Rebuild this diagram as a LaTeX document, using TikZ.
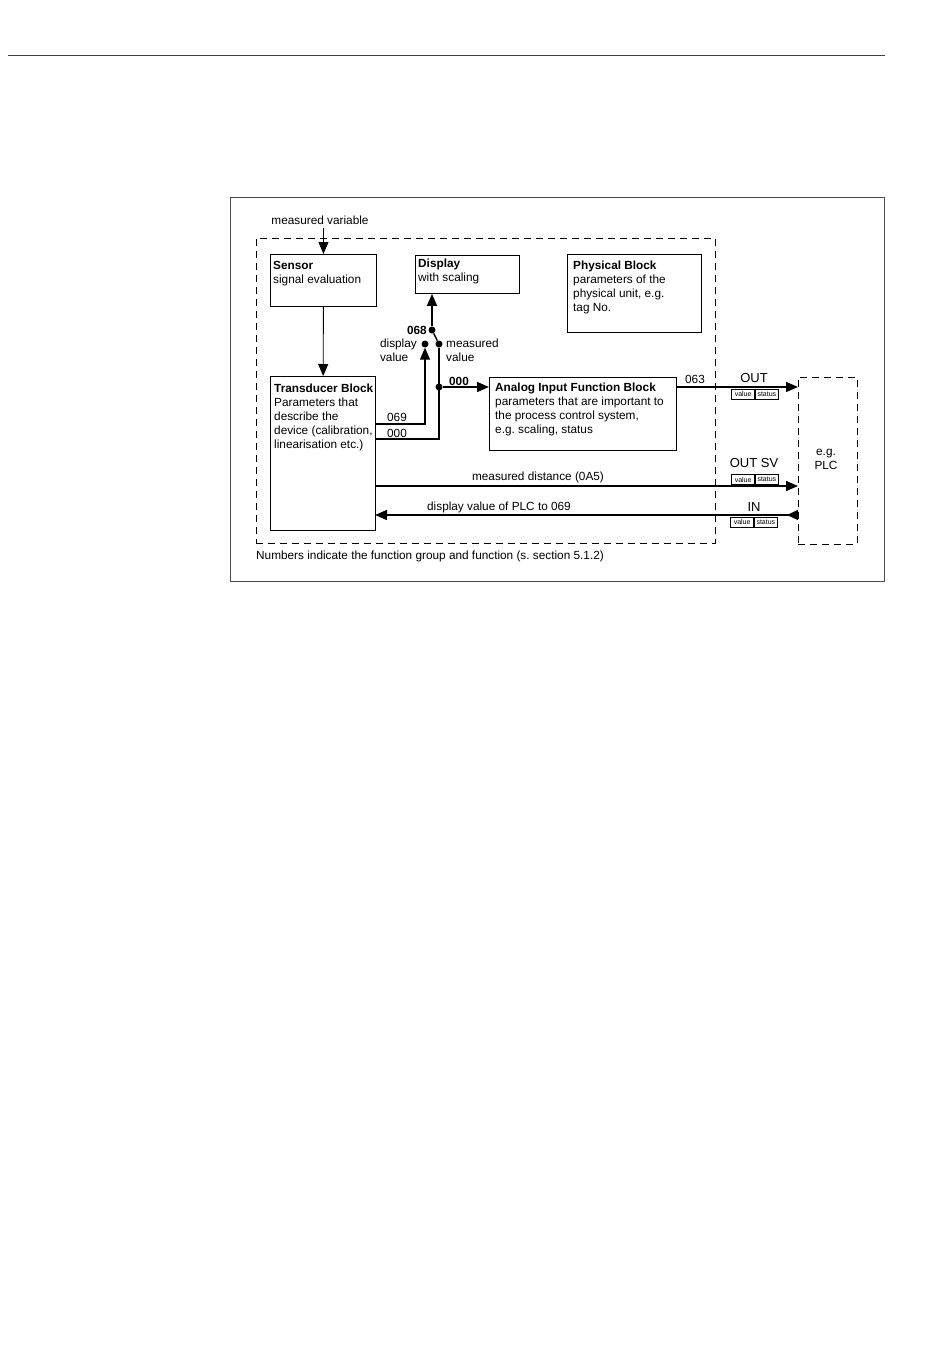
\documentclass[tikz,border=0pt]{standalone}
\usepackage{fontspec}
\setmainfont{Liberation Sans}
\usetikzlibrary{arrows.meta, positioning, calc}

\tikzset{
  block/.style={draw, line width=0.9pt, rectangle, anchor=north west, inner sep=0pt},
  blocktext/.style={anchor=north west, align=left, inner sep=0pt},
  dashedbox/.style={dash pattern=on 7pt off 5pt},
  flow/.style={line width=1.4pt, -{Triangle[length=12pt,width=10pt]}},
  thinflow/.style={line width=0.9pt, -{Triangle[length=12pt,width=10pt]}},
  backflow/.style={line width=1.4pt, {Triangle[reversed,length=11pt,width=10pt]}-{Triangle[length=12pt,width=10pt]}},
  wire/.style={line width=1.4pt},
  dot/.style={circle, fill, inner sep=0pt, minimum size=7pt},
  tag/.style={draw, line width=0.7pt, font=\fontsize{7}{8}\selectfont, minimum width=23pt, minimum height=10pt, inner sep=0pt},
  sig/.style={font=\fontsize{13}{15}\selectfont},
  lbl/.style={inner sep=0pt}
}

\begin{document}
\fontsize{11.8}{13.9}\selectfont
\begin{tikzpicture}[x=1pt, y=-1pt]
\useasboundingbox (0,0) rectangle (950,1370);

% Page rule and frames
\draw[line width=1pt, black!75] (8,56) -- (885,56);
\node[block, draw=black!70, minimum width=654pt, minimum height=384pt] (frame) at (230,197) {};
\node[block, dashedbox, minimum width=459pt, minimum height=305pt] (device) at (256,238) {};

% Blocks
\node[block, minimum width=106pt, minimum height=52pt] (sensor) at (270,254) {};
\node[blocktext] (sensortxt) at ([xshift=3pt,yshift=-7pt]sensor.north west) {\textbf{Sensor}\\signal evaluation};

\node[block, minimum width=105pt, minimum height=154pt] (transducer) at (270,376) {};
\node[blocktext] (transducertxt) at ([xshift=4pt,yshift=-8pt]transducer.north west) {\textbf{Transducer Block}\\Parameters that\\describe the\\device (calibration,\\linearisation etc.)};

\node[block, minimum width=104pt, minimum height=38pt] (display) at (415,255) {};
\node[blocktext] (displaytxt) at ([xshift=3pt,yshift=-4pt]display.north west) {\textbf{Display}\\with scaling};

\node[block, minimum width=134pt, minimum height=78pt] (physical) at (567,254) {};
\node[blocktext] (physicaltxt) at ([xshift=6pt,yshift=-7pt]physical.north west) {\textbf{Physical Block}\\parameters of the\\physical unit, e.g.\\tag No.};

\node[block, minimum width=187pt, minimum height=73pt] (analog) at (489,377) {};
\node[blocktext] (analogtxt) at ([xshift=6pt,yshift=-6pt]analog.north west) {\textbf{Analog Input Function Block}\\parameters that are important to\\the process control system,\\e.g.\ scaling, status};

\node[block, dashedbox, minimum width=59pt, minimum height=167pt] (plc) at (798,377) {};
\node[align=center, lbl] (plctxt) at (826,459) {e.g.\\PLC};

% Measured variable into the sensor
\node[lbl] (mvar) at (320,220) {measured variable};
\draw[thinflow] ([yshift=-3pt]mvar.south -| sensor.north) -- (sensor.north);
\draw[thinflow] (sensor) -- (transducer);

% Switch between display value and measured value
\node[dot] (d068) at (432,330) {};
\node[dot] (ddisp) at (425,344) {};
\node[dot] (dmeas) at (439,344) {};
\node[dot] (djoin) at (439,387) {};
\coordinate (in069) at (375,424);
\coordinate (in000) at (375,439);

\draw[flow] (d068) -- (d068 |- display.south);
\draw[wire] (d068) -- (dmeas);
\draw[wire] (in000) -| (dmeas);
\draw[flow] (in069) -| (ddisp.south);
\draw[flow] (djoin) -- (djoin -| analog.west);

\node[lbl, anchor=east, font=\bfseries] (l068) at (427,330) {068};
\node[lbl, anchor=east, align=left] (ldisp) at (417,350) {display\\value};
\node[lbl, anchor=west, align=left] (lmeas) at (446,350) {measured\\value};
\node[lbl, font=\bfseries] (l000a) at (459,381) {000};
\node[lbl] (l069) at (397,417) {069};
\node[lbl] (l000b) at (397,433) {000};

% Signals to and from the PLC
\draw[flow] (analog.east |- djoin) -- (plc.west |- djoin);
\node[lbl] (l063) at (695,379) {063};
\node[lbl, sig] (lout) at (754,378) {OUT};
\node[tag, anchor=north east] (outval) at (755,389) {value};
\node[tag, anchor=north west] (outstat) at (outval.north east) {status};

\coordinate (tdist) at (375,486);
\draw[flow] (tdist) -- (tdist -| plc.west);
\node[lbl] (ldist) at (538,477) {measured distance (0A5)};
\node[lbl, sig] (loutsv) at (754,463) {OUT SV};
\node[tag, anchor=south east] (svval) at (755,485) {value};
\node[tag, anchor=south west] (svstat) at (svval.south east) {status};

\coordinate (tin) at (375,515);
\draw[backflow] (tin -| plc.west) -- (tin);
\node[lbl] (lin) at (499,507) {display value of PLC to 069};
\node[lbl, sig] (lin2) at (754,507) {IN};
\node[tag, anchor=north east] (inval) at (754,517) {value};
\node[tag, anchor=north west] (instat) at (inval.north east) {status};

% Footnote
\node[lbl, anchor=west] (note) at (256,556) {Numbers indicate the function group and function (s.\ section 5.1.2)};
\end{tikzpicture}
\end{document}
